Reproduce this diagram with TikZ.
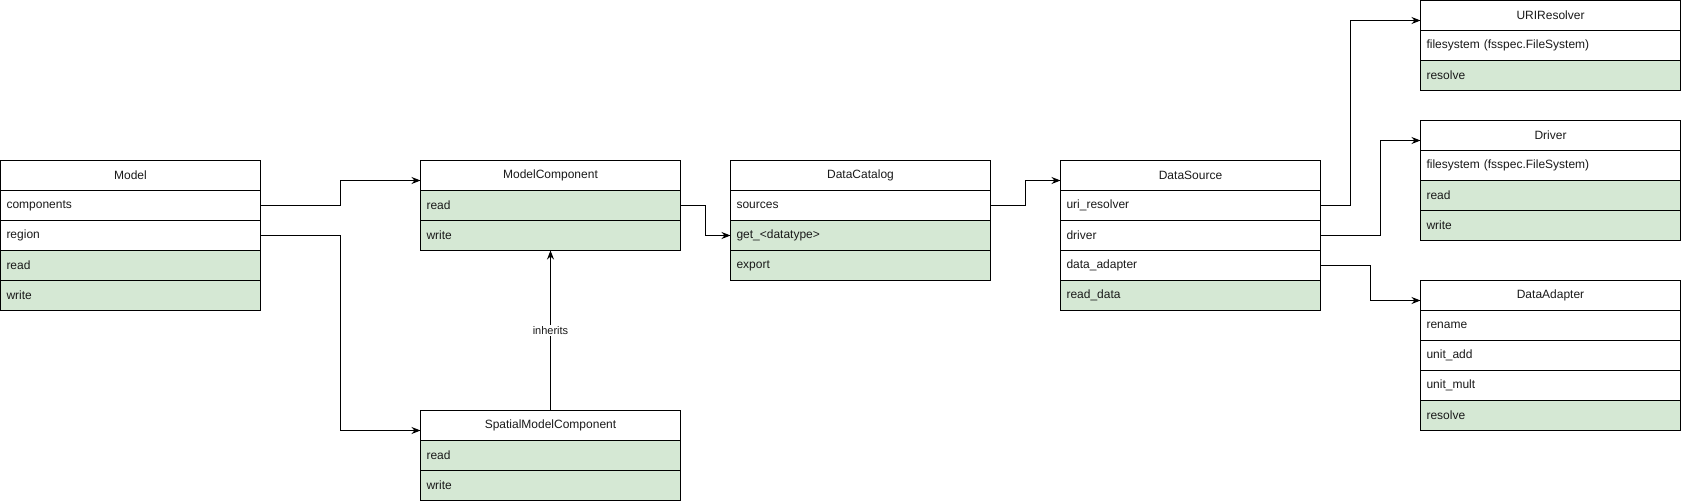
\documentclass[tikz,border=0pt]{standalone}
\usepackage{fontspec}
\setmainfont{Liberation Sans}
\usetikzlibrary{arrows.meta,calc}
\definecolor{rowgreen}{HTML}{D5E8D4}
\definecolor{txt}{HTML}{1A1A1A}
\tikzset{
  base/.style={draw=black, line width=1pt, rectangle, anchor=north west, outer sep=0pt,
    minimum width=260pt, minimum height=30pt, inner ysep=0pt, text=txt,
    font=\fontsize{12pt}{14pt}\selectfont},
  hdr/.style={base, fill=white, text width=248pt, inner xsep=6pt, align=center},
  roww/.style={base, fill=white, text width=248pt, inner xsep=6pt, align=left},
  rowg/.style={base, fill=rowgreen, text width=248pt, inner xsep=6pt, align=left},
  conn/.style={draw=black, line width=1pt, -{Stealth[length=9pt,width=7pt]}},
  lbl/.style={fill=white, inner sep=1pt, text=txt, font=\fontsize{11pt}{13pt}\selectfont}
}
\begin{document}
\begin{tikzpicture}[x=1pt,y=-1pt]
\useasboundingbox (-0.5,-0.5) rectangle (1680.5,500.5);
% Model
\node[hdr]  (model) at (0,160) {Model};
\node[roww] (model-components) at (0,190) {components};
\node[roww] (model-region) at (0,220) {region};
\node[rowg] (model-read) at (0,250) {read};
\node[rowg] (model-write) at (0,280) {write};
% ModelComponent
\node[hdr]  (mc) at (420,160) {ModelComponent};
\node[rowg] (mc-read) at (420,190) {read};
\node[rowg] (mc-write) at (420,220) {write};
% SpatialModelComponent
\node[hdr]  (smc) at (420,410) {SpatialModelComponent};
\node[rowg] (smc-read) at (420,440) {read};
\node[rowg] (smc-write) at (420,470) {write};
% DataCatalog
\node[hdr]  (dc) at (730,160) {DataCatalog};
\node[roww] (dc-sources) at (730,190) {sources};
\node[rowg] (dc-get) at (730,220) {get\_<datatype>};
\node[rowg] (dc-export) at (730,250) {export};
% DataSource
\node[hdr]  (ds) at (1060,160) {DataSource};
\node[roww] (ds-uri) at (1060,190) {uri\_resolver};
\node[roww] (ds-driver) at (1060,220) {driver};
\node[roww] (ds-adapter) at (1060,250) {data\_adapter};
\node[rowg] (ds-read) at (1060,280) {read\_data};
% URIResolver
\node[hdr]  (uri) at (1420,0) {URIResolver};
\node[roww] (uri-fs) at (1420,30) {filesystem (fsspec.FileSystem)};
\node[rowg] (uri-resolve) at (1420,60) {resolve};
% Driver
\node[hdr]  (drv) at (1420,120) {Driver};
\node[roww] (drv-fs) at (1420,150) {filesystem (fsspec.FileSystem)};
\node[rowg] (drv-read) at (1420,180) {read};
\node[rowg] (drv-write) at (1420,210) {write};
% DataAdapter
\node[hdr]  (da) at (1420,280) {DataAdapter};
\node[roww] (da-rename) at (1420,310) {rename};
\node[roww] (da-add) at (1420,340) {unit\_add};
\node[roww] (da-mult) at (1420,370) {unit\_mult};
\node[rowg] (da-resolve) at (1420,400) {resolve};
% connectors
\draw[conn] (model-components.east) -- ++(80,0) |- ([yshift=-5pt]mc.west);
\draw[conn] (model-region.east) -- ++(80,0) |- ([yshift=-5pt]smc.west);
\draw[conn] (mc-read.east) -- ++(25,0) |- (dc-get.west);
\draw[conn] (smc.north) -- node[lbl] {inherits} (mc-write.south);
\draw[conn] (dc-sources.east) -- ++(35,0) |- ([yshift=-5pt]ds.west);
\draw[conn] (ds-uri.east) -- ++(30,0) |- ([yshift=-5pt]uri.west);
\draw[conn] (ds-driver.east) -- ++(60,0) |- ([yshift=-5pt]drv.west);
\draw[conn] (ds-adapter.east) -- ++(50,0) |- ([yshift=-5pt]da.west);
\end{tikzpicture}
\end{document}
